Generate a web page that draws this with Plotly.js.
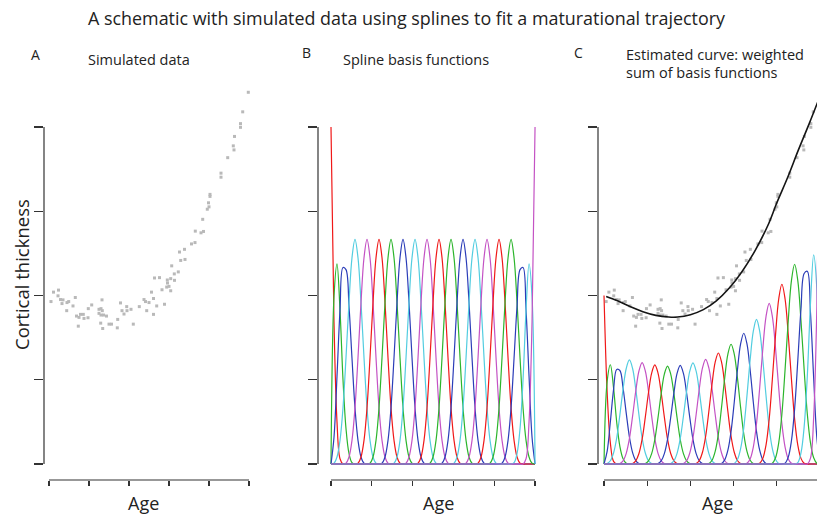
<!DOCTYPE html>
<html><head><meta charset="utf-8">
<script src="https://cdn.plot.ly/plotly-3.0.1.min.js"></script>
<style>html,body{margin:0;padding:0;background:#fff}#chart{width:817px;height:517px}</style>
</head><body><div id="chart"></div>
<script>
// ---------- data ----------
const ageTicks = [0, 0.2, 0.4, 0.6, 0.8, 1];
const thickTicks = [0, 0.25, 0.5, 0.75, 1];

// simulated observations (age, cortical thickness)
const ageObs = [0.010,0.0225,0.0475,0.045,0.0575,0.070,0.065,0.090,0.0985,0.0885,
  0.120,0.1315,0.1375,0.1465,0.150,0.1575,0.1715,0.175,0.195,0.1965,
  0.2135,0.250,0.260,0.2665,0.250,0.260,0.265,0.2725,0.2875,0.2585,
  0.2685,0.300,0.3125,0.3415,0.3435,0.3575,0.365,0.375,0.3885,0.390,
  0.410,0.4215,0.4515,0.475,0.4825,0.4885,0.500,0.5125,0.5225,0.5225,
  0.5275,0.5385,0.5525,0.565,0.5775,0.5885,0.5925,0.5915,0.600,0.6085,
  0.6085,0.6135,0.6265,0.6275,0.6465,0.6525,0.6585,0.6775,0.680,0.7125,
  0.730,0.7315,0.760,0.7725,0.7685,0.7915,0.800,0.7975,0.805,0.805,
  0.860,0.860,0.8935,0.9215,0.925,0.9275,0.9575,0.9575,0.9685,0.9965];
const thickObs = [0.482,0.510,0.516,0.499,0.488,0.487,0.476,0.479,0.482,0.455,
  0.469,0.494,0.439,0.409,0.435,0.444,0.444,0.432,0.434,0.461,
  0.472,0.459,0.461,0.455,0.447,0.442,0.487,0.442,0.439,0.418,
  0.402,0.415,0.415,0.404,0.429,0.478,0.455,0.445,0.467,0.455,
  0.459,0.415,0.467,0.488,0.482,0.455,0.479,0.510,0.491,0.444,
  0.552,0.469,0.553,0.517,0.474,0.525,0.537,0.546,0.527,0.514,
  0.550,0.588,0.564,0.545,0.570,0.629,0.604,0.637,0.607,0.653,
  0.657,0.691,0.686,0.690,0.726,0.756,0.763,0.775,0.800,0.794,
  0.863,0.851,0.909,0.944,0.932,0.972,1.010,0.999,1.045,1.103];

// estimated (fitted) curve
const fitAge   = [0.01,0.06,0.12,0.18,0.24,0.30,0.34,0.40,0.46,0.52,0.58,0.64,0.70,0.76,0.80,0.85,0.90,0.95,0.99];
const fitThick = [0.497,0.485,0.467,0.452,0.441,0.436,0.436,0.443,0.458,0.484,0.522,0.572,0.634,0.710,0.775,0.850,0.932,1.010,1.075];

// spline knots (age) and basis-function profiles sampled at quarter-knot steps
const knots = [0,0.0588,0.1176,0.1765,0.2353,0.2941,0.3529,0.4118,0.4706,0.5294,
  0.5882,0.6471,0.7059,0.7647,0.8235,0.8824,0.9412,1];
const bumpInterior = [0,0.0026,0.0208,0.0703,0.1667,0.3151,0.4792,0.6120,0.6667,0.6120,0.4792,0.3151,0.1667,0.0703,0.0208,0.0026,0];
const bumpEdge1 = [1,0.4219,0.125,0.0156,0];
const bumpEdge2 = [0,0.4961,0.5938,0.4570,0.25,0.1055,0.0313,0.0039,0];
const bumpEdge3 = [0,0.0794,0.2604,0.4570,0.5833,0.5768,0.4688,0.3138,0.1667,0.0703,0.0208,0.0026,0];

// weights of the 20 basis functions in panel C
const weightsC = [0.500,0.496,0.481,0.463,0.451,0.441,0.436,0.439,0.450,0.466,
  0.494,0.533,0.582,0.644,0.715,0.800,0.889,0.980,1.045,1.108];

const basisColors = ['#f01818','#2cb52c','#2b3db8','#52cde0','#c452c4'];

// ---------- build ----------
// sample grid: quarter steps between consecutive knots
const grid = [];
for (let j = 0; j < knots.length - 1; j++)
  for (let q = 0; q < 4; q++) grid.push(knots[j] + (knots[j + 1] - knots[j]) * q / 4);
grid.push(knots[knots.length - 1]);

function basis(k){
  let prof, start;
  if (k === 0) { prof = bumpEdge1; start = 0; }
  else if (k === 1) { prof = bumpEdge2; start = 0; }
  else if (k === 2) { prof = bumpEdge3; start = 0; }
  else if (k <= 16) { prof = bumpInterior; start = k - 3; }
  else if (k === 17) { prof = bumpEdge3.slice().reverse(); start = 14; }
  else if (k === 18) { prof = bumpEdge2.slice().reverse(); start = 15; }
  else { prof = bumpEdge1.slice().reverse(); start = 16; }
  const ys = grid.map(() => 0);
  prof.forEach((v, i) => { ys[start * 4 + i] = v; });
  return ys;
}

const traces = [];
const ptStyle = {symbol:'square', size:3, color:'#b9b9b9'};
traces.push({type:'scatter', mode:'markers', x:ageObs, y:thickObs, xaxis:'x', yaxis:'y',
  marker:ptStyle, cliponaxis:false, hoverinfo:'skip'});

for (let k = 0; k < 20; k++) {
  traces.push({type:'scatter', mode:'lines', x:grid, y:basis(k), xaxis:'x2', yaxis:'y2',
    line:{color:basisColors[k % 5], width:1.2, shape:'spline'}, hoverinfo:'skip'});
}
traces.push({type:'scatter', mode:'markers', x:ageObs, y:thickObs, xaxis:'x3', yaxis:'y3',
  marker:ptStyle, cliponaxis:false, hoverinfo:'skip'});
for (let k = 0; k < 20; k++) {
  traces.push({type:'scatter', mode:'lines', x:grid, y:basis(k).map(v => v * weightsC[k]), xaxis:'x3', yaxis:'y3',
    line:{color:basisColors[k % 5], width:1.2, shape:'spline'}, hoverinfo:'skip'});
}
traces.push({type:'scatter', mode:'lines', x:fitAge, y:fitThick, xaxis:'x3', yaxis:'y3',
  line:{color:'#151515', width:1.6, shape:'spline'}, hoverinfo:'skip'});

// ---------- layout ----------
const W = 817, H = 517;
const px = x => x / W, py = y => 1 - y / H;
const FONT = 'Open Sans, Noto Sans, DejaVu Sans, sans-serif';
const AX = '#333333';
const xCommon = {showline:false, zeroline:false, showgrid:false, ticks:'outside', ticklen:5,
  tickwidth:1.2, tickcolor:AX, tickvals:ageTicks, showticklabels:false, fixedrange:true};
const yCommon = {showline:false, zeroline:false, showgrid:false, ticks:'outside', ticklen:9,
  tickwidth:1.2, tickcolor:AX, tickvals:thickTicks, showticklabels:false, fixedrange:true,
  domain:[py(480), py(85)], range:[-0.0475, 1.1246]};

const layout = {
  width:W, height:H, margin:{l:0, r:0, t:0, b:0}, showlegend:false,
  paper_bgcolor:'#ffffff', plot_bgcolor:'rgba(0,0,0,0)',
  font:{family:FONT, color:'#222'},
  xaxis: Object.assign({}, xCommon, {domain:[px(44), px(257)], range:[-0.025, 1.04], anchor:'y'}),
  yaxis: Object.assign({}, yCommon, {anchor:'x'}),
  xaxis2: Object.assign({}, xCommon, {domain:[px(318), px(543)], range:[-0.0637, 1.039], anchor:'y2'}),
  yaxis2: Object.assign({}, yCommon, {anchor:'x2'}),
  xaxis3: Object.assign({}, xCommon, {domain:[px(598), 1], range:[-0.0278, 0.986], anchor:'y3'}),
  yaxis3: Object.assign({}, yCommon, {anchor:'x3'}),
  shapes: [],
  annotations: []
};

['', '2', '3'].forEach(n => {
  layout.shapes.push({type:'line', xref:'x' + n + ' domain', x0:0, x1:0, yref:'y' + n,
    y0:thickTicks[0], y1:thickTicks[thickTicks.length - 1], line:{color:AX, width:1.2}});
  layout.shapes.push({type:'line', xref:'x' + n, x0:ageTicks[0], x1:ageTicks[ageTicks.length - 1],
    yref:'y' + n + ' domain', y0:0, y1:0, line:{color:AX, width:1.2}});
});

function txt(text, x, y, size, xanchor, extra){
  layout.annotations.push(Object.assign({text, xref:'paper', yref:'paper', x:px(x), y:py(y),
    xanchor:xanchor || 'center', yanchor:'middle', showarrow:false,
    font:{family:FONT, size, color:'#222'}}, extra || {}));
}
txt('A schematic with simulated data using splines to fit a maturational trajectory', 406, 18, 17.9);
txt('A', 35, 54, 14);
txt('Simulated data', 139, 59, 14.5);
txt('B', 306, 53, 14);
txt('Spline basis functions', 416, 59, 14.5);
txt('C', 578, 53, 14);
txt('Estimated curve: weighted', 624, 54, 14.5, 'left');
txt('sum of basis functions', 624, 73, 14.5, 'left');
txt('Age', 143, 503, 18);
txt('Age', 438, 503, 18);
txt('Age', 717, 503, 18);
txt('Cortical thickness', 21, 275, 18.5, 'center', {textangle:-90});

Plotly.newPlot('chart', traces, layout, {staticPlot:true, displayModeBar:false});
</script>
</body></html>
